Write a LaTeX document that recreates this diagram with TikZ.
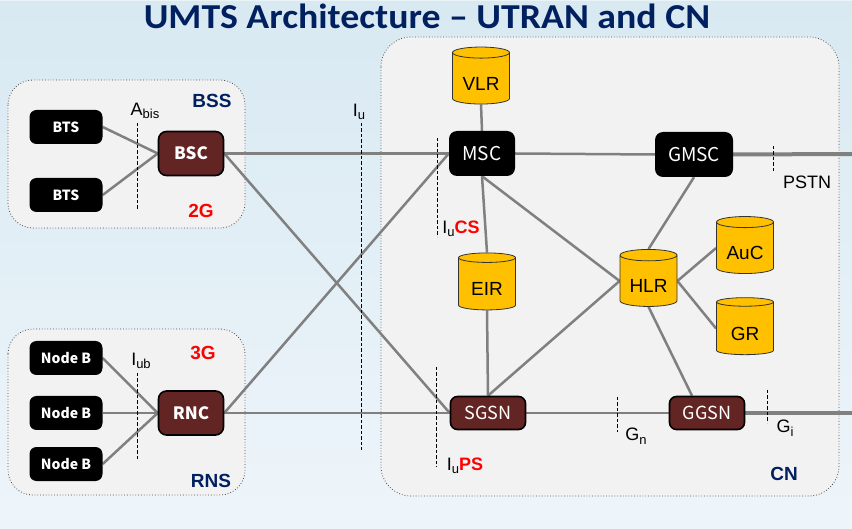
\documentclass[tikz,border=0pt]{standalone}
\usepackage{fontspec}
\setmainfont{Liberation Sans}
\newfontfamily\carl{Carlito}
\newfontfamily\kr{Noto Sans CJK KR}
\usetikzlibrary{shapes.geometric,calc}
\pgfdeclarelayer{bg}\pgfdeclarelayer{edges}
\pgfsetlayers{bg,edges,main}
\definecolor{navy}{HTML}{002060}
\definecolor{brownbox}{HTML}{632523}
\definecolor{cylfill}{HTML}{FFC000}
\definecolor{boxfill}{HTML}{F2F2F2}
\definecolor{linegray}{HTML}{808080}
\definecolor{bgtop}{HTML}{D8E9F2}
\definecolor{bgbot}{HTML}{EEF5FA}
\newcommand\sub[1]{\raisebox{-3.5pt}{\fontsize{13}{13}\selectfont #1}}
\newcommand\low[1]{\raisebox{-5pt}[\height][\depth]{#1}}
\begin{document}
\begin{tikzpicture}[x=1pt,y=-1pt,
  blk/.style={rectangle,rounded corners=7pt,fill=black,text=white,inner sep=0pt,
    font=\kr\bfseries\fontsize{14}{14}\selectfont,minimum width=73pt,minimum height=34pt},
  ctrl/.style={rectangle,rounded corners=8pt,fill=brownbox,draw=black,line width=1.6pt,text=white,
    inner sep=0pt,font=\kr\bfseries\fontsize{17}{17}\selectfont,minimum width=65pt,minimum height=44pt},
  sw/.style={rectangle,rounded corners=8pt,fill=black,text=white,inner sep=0pt,
    font=\kr\fontsize{19}{19}\selectfont,minimum height=45pt},
  gsn/.style={rectangle,rounded corners=7pt,fill=brownbox,draw=black,line width=1.6pt,text=white,
    inner sep=0pt,font=\kr\fontsize{18}{18}\selectfont,minimum width=75pt,minimum height=33pt},
  cyl/.style={cylinder,shape border rotate=90,aspect=0.3,draw=black!80,line width=0.8pt,fill=cylfill,
    minimum width=57pt,minimum height=57pt,inner sep=0pt,font=\fontsize{19}{19}\selectfont},
  area/.style={draw=black!70,dotted,line width=0.8pt,fill=boxfill},
  link/.style={draw=linegray,line width=2.5pt},
  ext/.style={draw=linegray,line width=4pt},
  ifmark/.style={draw=black,dash pattern=on 3.5pt off 2pt,line width=0.8pt},
  lbl/.style={inner sep=0pt,font=\fontsize{18}{18}\selectfont},
  grp/.style={inner sep=0pt,font=\bfseries\fontsize{19}{19}\selectfont,text=navy},
  gen/.style={inner sep=0pt,font=\bfseries\fontsize{19}{19}\selectfont,text=red}
]
\useasboundingbox (0,0) rectangle (852,529);
\begin{pgfonlayer}{bg}
  \fill[top color=bgtop,bottom color=bgbot] (0,0) rectangle (852,529);
  \fill[white!45!bgtop] (0,0) rectangle (852,1.5);
  \path[area,rounded corners=25pt] (8,80) rectangle (245,228);
  \path[area,rounded corners=25pt] (8,329) rectangle (245,495);
  \path[area,rounded corners=30pt] (381,37) rectangle (839,496);
\end{pgfonlayer}

\node[inner sep=0pt,text=navy,xscale=1.08,transform shape,font=\carl\bfseries\fontsize{35}{35}\selectfont] (title) at (427,16) {UMTS Architecture – UTRAN and CN};

% access nodes
\node[blk] (bts1) at (66,127) {BTS};
\node[blk] (bts2) at (66,195) {BTS};
\node[ctrl] (bsc) at (191,153.5) {BSC};
\node[blk] (nb1) at (66,358) {Node B};
\node[blk] (nb2) at (66,413) {Node B};
\node[blk] (nb3) at (66,464) {Node B};
\node[ctrl] (rnc) at (191,413) {RNC};

% core nodes
\node[cyl] (vlr) at (481,78.5) {\low{VLR}};
\node[sw,minimum width=66pt] (msc) at (482,153.5) {MSC};
\node[sw,minimum width=78pt] (gmsc) at (694,154.5) {GMSC};
\node[cyl] (eir) at (487,284) {\low{EIR}};
\node[cyl] (hlr) at (648.5,281) {\low{HLR}};
\node[cyl] (auc) at (745,248) {\low{AuC}};
\node[cyl] (gr) at (745,328.5) {\low{GR}};
\node[gsn] (sgsn) at (488,413) {SGSN};
\node[gsn] (ggsn) at (707,413) {GGSN};
\coordinate (pstnend) at (852,154);
\coordinate (giend) at (852,413);

\begin{pgfonlayer}{edges}
  \draw[link] (bts1.east) -- (bsc.west);
  \draw[link] (bts2.east) -- (bsc.west);
  \draw[link] (nb1.east) -- (rnc.west);
  \draw[link] (nb2.east) -- (rnc.west);
  \draw[link] (nb3.east) -- (rnc.west);
  \draw[link] (bsc.east) -- (msc.west);
  \draw[link] (bsc.east) -- (sgsn.west);
  \draw[link] (rnc.east) -- (msc.west);
  \draw[link] (rnc.east) -- (sgsn.west);
  \draw[link] (vlr.south) -- (msc.north);
  \draw[link] (msc.east) -- (gmsc.west);
  \draw[link] (msc.south) -- (eir.north);
  \draw[link] (msc.south) -- (hlr.west);
  \draw[link] (gmsc.south) -- (hlr.north);
  \draw[link] (hlr.east) -- (auc.west);
  \draw[link] (hlr.east) -- (gr.west);
  \draw[link] (hlr.west) -- (sgsn.north);
  \draw[link] (eir.south) -- (sgsn.north);
  \draw[link] (hlr.south) -- ($(ggsn.north)-(15,0)$);
  \draw[link] (sgsn.east) -- (ggsn.west);
  \draw[ext] (gmsc.east) -- (pstnend);
  \draw[ext] (ggsn.east) -- (giend);
\end{pgfonlayer}

% interface markers
\draw[ifmark] (137,123) -- (137,210);
\draw[ifmark] (137,373) -- (137,460);
\draw[ifmark] (361,123) -- (361,450);
\draw[ifmark] (437,138) -- (437,237);
\draw[ifmark] (436,367) -- (436,467);
\draw[ifmark] (617,397) -- (617,432);
\draw[ifmark] (767,390) -- (767,423);
\draw[ifmark] (773,146) -- (773,173);

% labels
\node[lbl] (labis) at (145,111) {A\sub{bis}};
\node[lbl] (liub) at (141,361) {I\sub{ub}};
\node[lbl] (liu) at (359,112) {I\sub{u}};
\node[lbl] (liucs) at (461,229) {I\sub{u}\textcolor{red}{\bfseries CS}};
\node[lbl] (liups) at (465,466) {I\sub{u}\textcolor{red}{\bfseries PS}};
\node[lbl] (lgn) at (636,436) {G\sub{n}};
\node[lbl] (lgi) at (785,428) {G\sub{i}};
\node[lbl] (lpstn) at (807,182) {PSTN};
\node[grp] (lbss) at (212,101) {BSS};
\node[grp] (lrns) at (211,481) {RNS};
\node[grp] (lcn) at (784,474) {CN};
\node[gen] (l2g) at (201,211) {2G};
\node[gen] (l3g) at (203,352.5) {3G};
\end{tikzpicture}
\end{document}
